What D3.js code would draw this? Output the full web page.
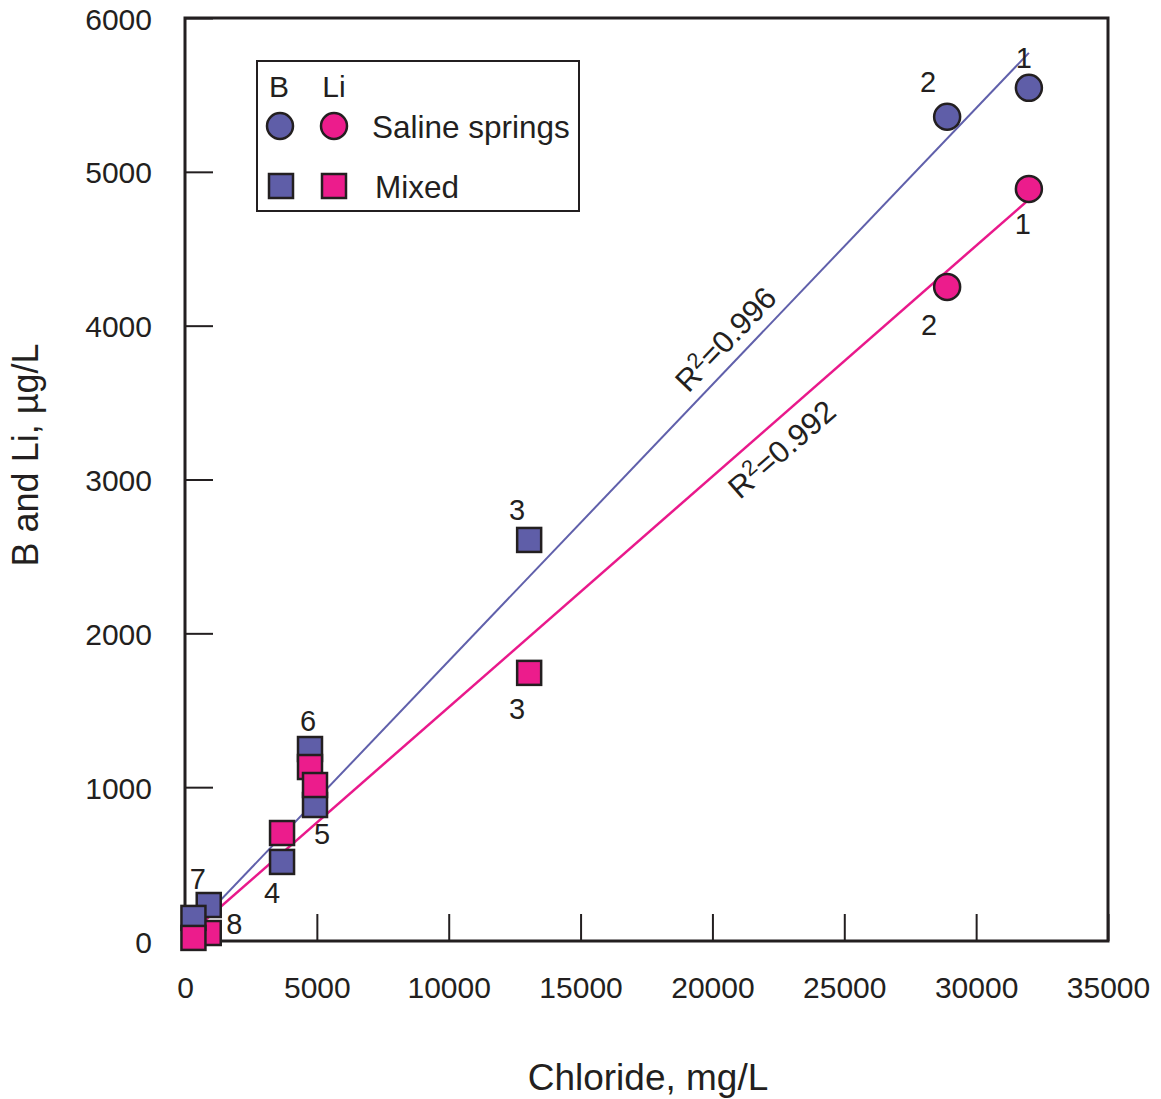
<!DOCTYPE html>
<html>
<head>
<meta charset="utf-8">
<script src="https://cdn.jsdelivr.net/npm/d3@7"></script>
<style>
  html, body { margin: 0; padding: 0; background: #fff; }
  svg { display: block; font-family: "Liberation Sans", Arial, Helvetica, sans-serif; }
</style>
</head>
<body>
<svg id="chart" width="1161" height="1099"></svg>
<script>
// Saline springs (samples 1, 2)
const salineIds = ["1", "2"];
const salineCl  = [32000, 28900];
const salineB   = [5546, 5358];
const salineLi  = [4889, 4252];

// Mixed waters (samples 3-8)
const mixedIds = ["3", "4", "5", "6", "7", "8"];
const mixedCl  = [13050, 3680, 4930, 4740, 900, 320];
const mixedB   = [2607, 514, 884, 1248, 234, 150];
const mixedLi  = [1743, 702, 1014, 1131, 52, 20];

// Linear fits (B, Li) against chloride
const fitNames     = ["B", "Li"];
const fitSlope     = [0.1797, 0.150];
const fitIntercept = [23, 20];
const fitR2        = ["0.996", "0.992"];
const fitClRange   = [300, 32000];

// Axis ticks
const xTicks = [0, 5000, 10000, 15000, 20000, 25000, 30000, 35000];
const yTicks = [0, 1000, 2000, 3000, 4000, 5000, 6000];

const INK = "#231f20";
const colB = "#5f5ea8";
const colLi = "#ec1c8c";
const lineB = "#6060ab";
const lineLi = "#e9198b";
const FONT = "'Liberation Sans', Arial, Helvetica, sans-serif";

const svg = d3.select("#chart");
const x = d3.scaleLinear().domain([0, 35000]).range([185, 1108]);
const y = d3.scaleLinear().domain([0, 6000]).range([941, 18]);

// Axes with inward ticks
const gx = svg.append("g")
  .attr("transform", `translate(0,${y(0)})`)
  .call(d3.axisBottom(x).tickValues(xTicks).tickFormat(d3.format("d"))
        .tickSizeInner(-27).tickSizeOuter(0).tickPadding(36));
const gy = svg.append("g")
  .attr("transform", `translate(${x(0)},0)`)
  .call(d3.axisLeft(y).tickValues(yTicks).tickFormat(d3.format("d"))
        .tickSizeInner(-28).tickSizeOuter(0).tickPadding(33));
[gx, gy].forEach(g => {
  g.select(".domain").remove();
  g.selectAll(".tick line").attr("stroke", INK).attr("stroke-width", 2);
  g.selectAll(".tick text").attr("fill", INK).attr("font-size", 30)
    .attr("font-family", FONT);
});
gy.selectAll(".tick text").attr("dy", "0.37em");
gx.selectAll(".tick text").attr("dy", "0.69em");

// Plot frame
svg.append("rect")
  .attr("x", x(0)).attr("y", y(6000))
  .attr("width", x(35000) - x(0)).attr("height", y(0) - y(6000))
  .attr("fill", "none").attr("stroke", INK).attr("stroke-width", 3);

// Axis titles
svg.append("text")
  .attr("x", 648).attr("y", 1090)
  .attr("text-anchor", "middle").attr("font-size", 37).attr("fill", INK)
  .text("Chloride, mg/L");
svg.append("text")
  .attr("transform", "translate(38,455) rotate(-90)")
  .attr("text-anchor", "middle").attr("font-size", 36).attr("fill", INK)
  .text("B and Li, \u00b5g/L");

// Regression lines
const fitColors = [lineB, lineLi];
const fitWidths = [2, 2.5];
fitNames.forEach((name, k) => {
  const pts = fitClRange.map(c => [c, fitSlope[k] * c + fitIntercept[k]]);
  svg.append("path")
    .datum(pts)
    .attr("d", d3.line().x(d => x(d[0])).y(d => y(d[1])))
    .attr("fill", "none")
    .attr("stroke", fitColors[k])
    .attr("stroke-width", fitWidths[k]);
});

// R² labels set along each fit line
const r2At     = [21100, 22000];   // chloride position of label foot
const r2Offset = [11, -36];        // perpendicular offset (px, toward glyph tops)
fitNames.forEach((name, k) => {
  const c1 = fitClRange[0], c2 = fitClRange[1];
  const dx = x(c2) - x(c1);
  const dy = y(fitSlope[k] * c2 + fitIntercept[k]) - y(fitSlope[k] * c1 + fitIntercept[k]);
  const th = Math.atan2(dy, dx);
  const c = r2At[k];
  const fx = x(c), fy = y(fitSlope[k] * c + fitIntercept[k]);
  const nx = Math.sin(th), ny = -Math.cos(th);
  const px = fx + r2Offset[k] * nx, py = fy + r2Offset[k] * ny;
  const t = svg.append("text")
    .attr("transform", `translate(${px},${py}) rotate(${th * 180 / Math.PI})`)
    .attr("text-anchor", "middle").attr("font-size", 31).attr("fill", INK);
  t.append("tspan").text("R");
  t.append("tspan").attr("font-size", 22).attr("dy", -11).text("2");
  t.append("tspan").attr("dy", 11).text("=" + fitR2[k]);
});

// Mixed waters: squares, stacked in this order where they overlap
const SQ = 24;
const squareOrder = [
  ["Li", 4], ["B", 4], ["B", 5], ["Li", 5],
  ["B", 1], ["Li", 1], ["B", 0], ["Li", 0],
  ["B", 3], ["Li", 3], ["B", 2], ["Li", 2]
];
const mixedVals = { B: mixedB, Li: mixedLi };
const mixedFill = { B: colB, Li: colLi };
svg.append("g").selectAll("rect")
  .data(squareOrder)
  .join("rect")
  .attr("x", d => x(mixedCl[d[1]]) - SQ / 2)
  .attr("y", d => y(mixedVals[d[0]][d[1]]) - SQ / 2)
  .attr("width", SQ).attr("height", SQ)
  .attr("fill", d => mixedFill[d[0]])
  .attr("stroke", INK).attr("stroke-width", 2.5);

// Saline springs: circles
function circles(values, fill) {
  svg.append("g").selectAll("circle")
    .data(salineCl.map((c, i) => [c, values[i]]))
    .join("circle")
    .attr("cx", d => x(d[0])).attr("cy", d => y(d[1]))
    .attr("r", 13)
    .attr("fill", fill).attr("stroke", INK).attr("stroke-width", 2.5);
}
circles(salineB, colB);
circles(salineLi, colLi);

// Sample number labels, offset (px) from their marker
const sets = {
  salineB:  { cl: salineCl, v: salineB,  id: salineIds },
  salineLi: { cl: salineCl, v: salineLi, id: salineIds },
  mixedB:   { cl: mixedCl,  v: mixedB,   id: mixedIds },
  mixedLi:  { cl: mixedCl,  v: mixedLi,  id: mixedIds }
};
const labelSpots = [
  { set: "salineB",  i: 0, dx: -5,  dy: -20 },
  { set: "salineB",  i: 1, dx: -19, dy: -25 },
  { set: "salineLi", i: 0, dx: -6,  dy: 45 },
  { set: "salineLi", i: 1, dx: -18, dy: 48 },
  { set: "mixedB",   i: 0, dx: -12, dy: -20 },
  { set: "mixedLi",  i: 0, dx: -12, dy: 46 },
  { set: "mixedB",   i: 1, dx: -10, dy: 41 },
  { set: "mixedB",   i: 2, dx: 7,   dy: 39 },
  { set: "mixedB",   i: 3, dx: -2,  dy: -18 },
  { set: "mixedB",   i: 4, dx: -11, dy: -16 },
  { set: "mixedB",   i: 5, dx: 41,  dy: 16 }
];
svg.append("g").selectAll("text")
  .data(labelSpots)
  .join("text")
  .attr("x", d => x(sets[d.set].cl[d.i]) + d.dx)
  .attr("y", d => y(sets[d.set].v[d.i]) + d.dy)
  .attr("text-anchor", "middle").attr("font-size", 29).attr("fill", INK)
  .text(d => sets[d.set].id[d.i]);

// Legend
const lg = svg.append("g");
lg.append("rect").attr("x", 257).attr("y", 61).attr("width", 322).attr("height", 150)
  .attr("fill", "#fff").attr("stroke", INK).attr("stroke-width", 2);
lg.append("text").attr("x", 279).attr("y", 97).attr("text-anchor", "middle")
  .attr("font-size", 30).attr("fill", INK).text("B");
lg.append("text").attr("x", 334).attr("y", 97).attr("text-anchor", "middle")
  .attr("font-size", 30).attr("fill", INK).text("Li");
lg.append("circle").attr("cx", 280).attr("cy", 126).attr("r", 13)
  .attr("fill", colB).attr("stroke", INK).attr("stroke-width", 2.5);
lg.append("circle").attr("cx", 334).attr("cy", 126).attr("r", 13)
  .attr("fill", colLi).attr("stroke", INK).attr("stroke-width", 2.5);
lg.append("text").attr("x", 372).attr("y", 138)
  .attr("font-size", 31.5).attr("fill", INK).text("Saline springs");
lg.append("rect").attr("x", 281 - 12).attr("y", 186 - 12).attr("width", 24).attr("height", 24)
  .attr("fill", colB).attr("stroke", INK).attr("stroke-width", 2.5);
lg.append("rect").attr("x", 334 - 12).attr("y", 186 - 12).attr("width", 24).attr("height", 24)
  .attr("fill", colLi).attr("stroke", INK).attr("stroke-width", 2.5);
lg.append("text").attr("x", 375).attr("y", 198)
  .attr("font-size", 31.5).attr("fill", INK).text("Mixed");
</script>
</body>
</html>
